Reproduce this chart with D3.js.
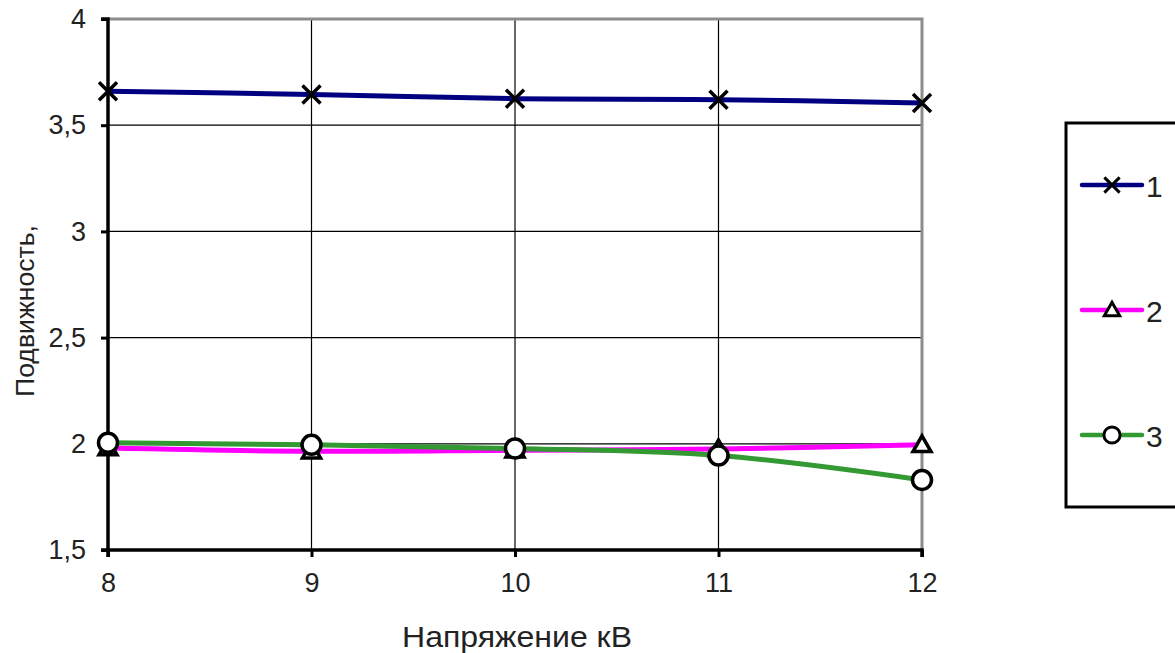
<!DOCTYPE html>
<html>
<head>
<meta charset="utf-8">
<script src="https://cdn.jsdelivr.net/npm/d3@7"></script>
<style>
  body { margin: 0; background: #fff; }
  text { font-family: "Liberation Sans Narrow", "Liberation Sans", Arial, sans-serif; fill: #222; }
</style>
</head>
<body>
<svg id="chart" width="1175" height="653"></svg>
<script>
// Chart data
const voltages = [8, 9, 10, 11, 12];
const series1 = [3.66, 3.645, 3.625, 3.62, 3.605];
const series2 = [1.98, 1.965, 1.97, 1.975, 1.995];
const series3 = [2.005, 1.995, 1.978, 1.945, 1.83];
const seriesNames = ['1', '2', '3'];
const yTicks = [1.5, 2, 2.5, 3, 3.5, 4];

const svg = d3.select('#chart');
const margin = { left: 108, top: 19, right: 253, bottom: 103 };
const width = 1175 - margin.left - margin.right;
const height = 653 - margin.top - margin.bottom;
const narrow = '"Liberation Sans Narrow", "Liberation Sans", Arial, sans-serif';

const x = d3.scaleLinear().domain([8, 12]).range([0, width]);
const y = d3.scaleLinear().domain([1.5, 4]).range([height, 0]);

const g = svg.append('g').attr('transform', `translate(${margin.left},${margin.top})`);

// Grid lines
g.append('g')
  .selectAll('line')
  .data(yTicks.slice(1, -1))
  .enter().append('line')
  .attr('x1', 0).attr('x2', width)
  .attr('y1', d => y(d)).attr('y2', d => y(d))
  .attr('stroke', '#000').attr('stroke-width', 1.2);

g.append('g')
  .selectAll('line')
  .data(voltages.slice(1, -1))
  .enter().append('line')
  .attr('x1', d => x(d)).attr('x2', d => x(d))
  .attr('y1', 0).attr('y2', height)
  .attr('stroke', '#000').attr('stroke-width', 1.2);

// Top and right frame (gray)
g.append('path')
  .attr('d', `M0,0H${width}V${height}`)
  .attr('fill', 'none')
  .attr('stroke', '#8c8c8c')
  .attr('stroke-width', 3);

// Axes
const yAxis = g.append('g')
  .call(d3.axisLeft(y).tickValues(yTicks).tickSize(7).tickPadding(15)
    .tickFormat(d => String(d).replace('.', ',')));
const xAxis = g.append('g')
  .attr('transform', `translate(0,${height})`)
  .call(d3.axisBottom(x).tickValues(voltages).tickSize(7).tickPadding(16).tickFormat(d3.format('d')));

[yAxis, xAxis].forEach(ax => {
  ax.attr('font-family', narrow).attr('font-size', 27);
  ax.select('.domain').attr('stroke', '#000').attr('stroke-width', 3.5);
  ax.selectAll('.tick line').attr('stroke', '#000').attr('stroke-width', 3);
  ax.selectAll('.tick text').attr('fill', '#222');
});
yAxis.select('.domain').attr('d', `M-7,${height}H0V0H-7`);
xAxis.select('.domain').attr('d', `M0,7V0H${width}V7`);

// Axis titles
svg.append('text')
  .attr('transform', 'translate(34,311) rotate(-90)')
  .attr('text-anchor', 'middle')
  .attr('textLength', 172)
  .attr('lengthAdjust', 'spacingAndGlyphs')
  .style('font-size', '26px')
  .text('Подвижность,');

svg.append('text')
  .attr('x', 517)
  .attr('y', 647)
  .attr('text-anchor', 'middle')
  .attr('textLength', 230)
  .attr('lengthAdjust', 'spacingAndGlyphs')
  .style('font-size', '29px')
  .text('Напряжение  кВ');

// Lines
const line = d3.line()
  .x((d, i) => x(voltages[i]))
  .y(d => y(d))
  .curve(d3.curveCatmullRom);

const allSeries = [
  { name: seriesNames[0], values: series1, color: '#000080', marker: 'cross' },
  { name: seriesNames[1], values: series2, color: '#ff00ff', marker: 'triangle' },
  { name: seriesNames[2], values: series3, color: '#339933', marker: 'circle' }
];

allSeries.forEach(s => {
  g.append('path')
    .datum(s.values)
    .attr('d', line)
    .attr('fill', 'none')
    .attr('stroke', s.color)
    .attr('stroke-width', 5);
});

function drawMarker(sel, type, cx, cy, scale) {
  const k = scale || 1;
  if (type === 'cross') {
    const r = 9 * k;
    sel.append('path')
      .attr('d', `M${cx - r},${cy - r}L${cx + r},${cy + r}M${cx - r},${cy + r}L${cx + r},${cy - r}`)
      .attr('stroke', '#000').attr('stroke-width', 3.5 * k).attr('fill', 'none');
  } else if (type === 'triangle') {
    const r = 9 * k;
    sel.append('path')
      .attr('d', `M${cx},${cy - r}L${cx + r},${cy + r * 0.75}L${cx - r},${cy + r * 0.75}Z`)
      .attr('stroke', '#000').attr('stroke-width', 3.5 * k).attr('fill', '#fff')
      .attr('stroke-linejoin', 'miter');
  } else {
    sel.append('circle')
      .attr('cx', cx).attr('cy', cy).attr('r', 9.5 * k)
      .attr('stroke', '#000').attr('stroke-width', 3.5 * k).attr('fill', '#fff');
  }
}

// Markers: triangles first, then crosses and circles on top
[allSeries[1], allSeries[0], allSeries[2]].forEach(s => {
  const mg = g.append('g');
  s.values.forEach((v, i) => drawMarker(mg, s.marker, x(voltages[i]), y(v)));
});

// Legend
const legend = svg.append('g');
legend.append('rect')
  .attr('x', 1066).attr('y', 123)
  .attr('width', 130).attr('height', 384)
  .attr('fill', '#fff')
  .attr('stroke', '#000').attr('stroke-width', 3);

const legendY = [185, 310, 435];
allSeries.forEach((s, i) => {
  const ly = legendY[i];
  legend.append('line')
    .attr('x1', 1082).attr('x2', 1142)
    .attr('y1', ly).attr('y2', ly)
    .attr('stroke', s.color).attr('stroke-width', 4.5)
    .attr('stroke-linecap', 'round');
  drawMarker(legend, s.marker, 1112, ly, 0.85);
  legend.append('text')
    .attr('x', 1146).attr('y', ly + 12)
    .style('font-size', '30px')
    .text(s.name);
});
</script>
</body>
</html>
